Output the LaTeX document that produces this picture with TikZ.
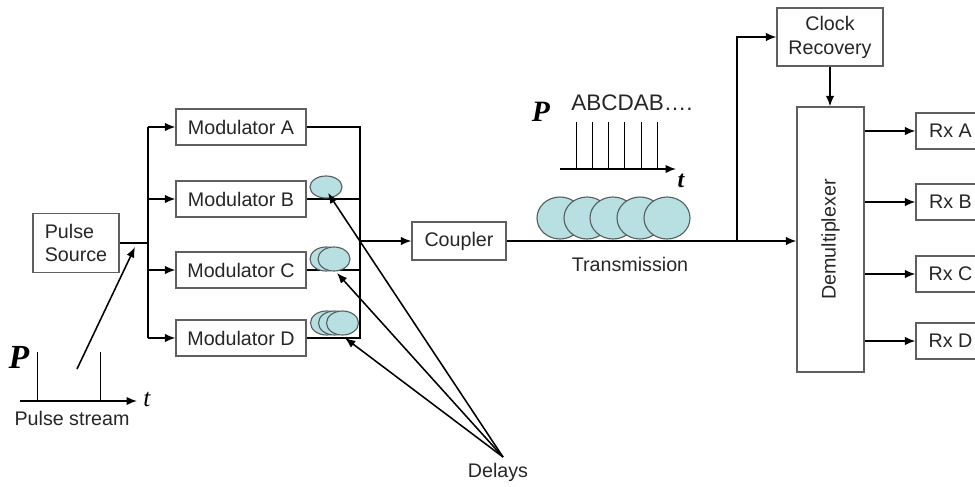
\documentclass[tikz,border=0pt]{standalone}
\usepackage{fontspec}
\setmainfont{Liberation Sans}
\newfontfamily\serifbi{Liberation Serif}
\usetikzlibrary{arrows.meta}
\definecolor{delayfill}{RGB}{184,224,227}
\definecolor{delayline}{RGB}{85,95,95}
\definecolor{boxline}{RGB}{95,95,95}
\tikzset{
	blk/.style={draw=boxline, line width=0.9pt, fill=white, inner sep=0pt, font=\fontsize{14}{17}\selectfont, text=black!85},
	lbl/.style={inner sep=0pt, font=\fontsize{14}{17}\selectfont, text=black!85},
	axlbl/.style={inner sep=0pt, font=\serifbi\bfseries\itshape\fontsize{22}{22}\selectfont},
	wire/.style={line width=1.1pt},
	arr/.style={-{Latex[length=2.6mm,width=2.1mm]}},
	dly/.style={draw=delayline, fill=delayfill, line width=0.8pt}
}
\begin{document}
\begin{tikzpicture}[x=0.025cm, y=-0.025cm]
	\useasboundingbox (0,0) rectangle (975,487);
	% transmitter side
	\node[blk, minimum width=2.15cm, minimum height=1.475cm, align=left] (src) at (76,243) {Pulse\\Source};
	\node[blk, minimum width=3.25cm, minimum height=0.9cm] (modA) at (241,127) {Modulator A};
	\node[blk, minimum width=3.25cm, minimum height=0.9cm] (modB) at (241,199) {Modulator B};
	\node[blk, minimum width=3.25cm, minimum height=0.9cm] (modC) at (241,270) {Modulator C};
	\node[blk, minimum width=3.25cm, minimum height=0.9cm] (modD) at (241,338) {Modulator D};
	\node[blk, minimum width=2.35cm, minimum height=0.95cm] (cpl) at (459,241) {Coupler};
	% receiver side
	\node[blk, minimum width=2.65cm, minimum height=1.45cm, align=center] (clk) at (830,37) {Clock\\Recovery};
	\node[blk, minimum width=1.675cm, minimum height=6.625cm] (demux) at (830.5,239.5) {\rotatebox{90}{Demultiplexer}};
	\node[blk, minimum width=1.725cm, minimum height=0.9cm] (rxA) at (950.5,131) {Rx A};
	\node[blk, minimum width=1.725cm, minimum height=0.9cm] (rxB) at (950.5,202) {Rx B};
	\node[blk, minimum width=1.725cm, minimum height=0.9cm] (rxC) at (950.5,274) {Rx C};
	\node[blk, minimum width=1.725cm, minimum height=0.9cm] (rxD) at (950.5,341) {Rx D};

	\coordinate (split) at (148,243);
	\coordinate (join) at (360,241);
	\coordinate (tap) at (737,241);

	\draw[wire] (src.east) -- (split);
	\draw[wire] (148,127) -- (148,338);
	\foreach \m in {modA,modB,modC,modD}
		\draw[wire,arr] (split |- \m.west) -- (\m.west);
	\draw[wire] (modA.east) -- (join |- modA.east) -- (join |- modD.east) -- (modD.east);
	\draw[wire] (modB.east) -- (join |- modB.east);
	\draw[wire] (modC.east) -- (join |- modC.east);
	\draw[wire,arr] (join) -- (cpl.west);
	\draw[wire,arr] (cpl.east) -- (demux.west |- cpl.east);
	\draw[wire,arr] (tap) |- (clk.west);
	\draw[wire,arr] (clk.south) -- (clk.south |- demux.north);
	\foreach \r in {rxA,rxB,rxC,rxD}
		\draw[wire,arr] (demux.east |- \r.west) -- (\r.west);

	% delay lines
	\draw[dly] (326,187) ellipse (0.4cm and 0.275cm);
	\foreach \x in {326,334}
		\draw[dly] (\x,259) ellipse (0.4cm and 0.3cm);
	\foreach \x in {326.5,334.5,342.5}
		\draw[dly] (\x,323) ellipse (0.4cm and 0.3cm);

	% fibre
	\foreach \x in {560,587,613,640,667}
		\draw[dly] (\x,218) ellipse (0.575cm and 0.525cm);
	\node[lbl] (trans) at (630,264) {Transmission};

	% multiplexed pulse train
	\draw[wire,arr] (560,169) -- (676,169);
	\foreach \x in {576,592,608,624,641,657}
		\draw[line width=0.6pt] (\x,169) -- (\x,122);
	\node[axlbl, font=\serifbi\bfseries\itshape\fontsize{21}{21}\selectfont] (Ptop) at (541,112) {P};
	\node[axlbl, font=\serifbi\bfseries\itshape\fontsize{17}{17}\selectfont] (ttop) at (681,181) {t};
	\node[lbl, font=\fontsize{16}{18}\selectfont] (seq) at (632,103) {ABCDAB….};

	% input pulse stream
	\draw[wire,arr] (20,401) -- (137,401);
	\draw[line width=0.6pt] (37,401) -- (37,352);
	\draw[line width=0.6pt] (100,401) -- (100,352);
	\node[axlbl, font=\serifbi\bfseries\itshape\fontsize{24}{24}\selectfont] (Pbot) at (19,357) {P};
	\node[inner sep=0pt, font=\serifbi\itshape\fontsize{18}{18}\selectfont] (tbot) at (147,399) {t};
	\node[lbl] (stream) at (72,418) {Pulse stream};
	\coordinate (streamtip) at (135,247);
	\draw[wire,arr] (77,369) -- (streamtip);

	% delay pointers
	\node[lbl] (delays) at (498,472) {Delays};
	\coordinate (dc) at (503,457);
	\coordinate (tB) at (328,193);
	\coordinate (tC) at (337,273);
	\coordinate (tD) at (345,338);
	\foreach \t in {tB,tC,tD}
		\draw[wire,arr] (dc) -- (\t);
\end{tikzpicture}
\end{document}
